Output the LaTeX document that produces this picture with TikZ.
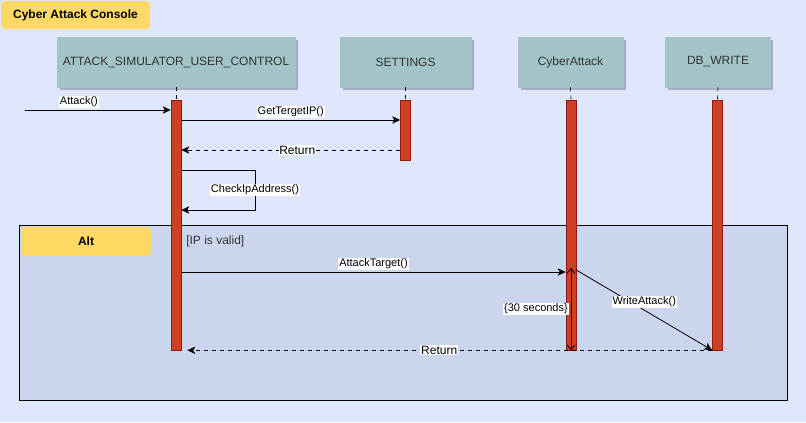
\documentclass[tikz,border=0pt]{standalone}
\usepackage{fontspec}
\setmainfont{Liberation Sans}
\usetikzlibrary{arrows.meta,positioning,shadows}

\definecolor{bgblue}{HTML}{DFE7FC}
\definecolor{altblue}{HTML}{CCD5EE}
\definecolor{headteal}{HTML}{A2C4C9}
\definecolor{shadowgray}{HTML}{A6ADC4}
\definecolor{notegold}{HTML}{FFD966}
\definecolor{barred}{HTML}{CC4125}
\definecolor{bardark}{HTML}{8E1C0E}
\definecolor{textgray}{HTML}{333333}

\tikzset{
  head/.style={draw=headteal, fill=headteal, text=textgray,
    minimum height=37.5pt, inner sep=0pt,
    font=\fontsize{9}{11}\selectfont,
    drop shadow={shadow xshift=2pt, shadow yshift=-2pt, fill=shadowgray, opacity=1}},
  tag/.style={fill=notegold, rounded corners=3pt, inner sep=0pt,
    font=\fontsize{9}{11}\selectfont\bfseries},
  bar/.style={draw=bardark, fill=barred, minimum width=7.5pt, inner sep=0pt},
  msg/.style={line width=0.75pt, -{Stealth[length=6pt,width=5.5pt,inset=1.5pt]}},
  ret/.style={msg, dashed},
  lbl/.style={fill=white, inner sep=0.6pt, font=\fontsize{8.25}{10}\selectfont},
  retlbl/.style={fill=white, inner sep=0.6pt, font=\fontsize{9}{11}\selectfont}
}

\begin{document}
\begin{tikzpicture}[x=0.75pt, y=-0.75pt]
  % background and frame
  \fill[bgblue] (0,0) rectangle (806,422);
  \useasboundingbox (0,0) rectangle (806,422);
  \draw[fill=altblue, line width=0.75pt] (19,225) rectangle (787,400);

  \node[tag, minimum width=111.75pt, minimum height=21pt] (title) at (75.5,15) {Cyber Attack Console};
  \node[tag, minimum width=97.5pt, minimum height=21.75pt] (alt) at (86,241.5) {Alt};
  \node[anchor=west, text=textgray, inner sep=0pt, font=\fontsize{9}{11}\selectfont] (guard) at (186,241) {[IP is valid]};

  % lifelines
  \node[head, minimum width=178.5pt] (ucHead) at (176,62) {ATTACK\_SIMULATOR\_USER\_CONTROL};
  \node[head, minimum width=98.25pt] (setHead) at (405.5,62) {SETTINGS};
  \node[head, minimum width=78.75pt] (caHead) at (570.5,62) {CyberAttack};
  \node[head, minimum width=78.75pt] (dbHead) at (718,62) {DB\_WRITE};

  \node[bar, minimum height=187.5pt] (ucBar) at (176,225) {};
  \node[bar, minimum height=45pt] (setBar) at (405.5,130) {};
  \node[bar, minimum height=187.5pt] (caBar) at (571,225) {};
  \node[bar, minimum height=187.5pt] (dbBar) at (717.5,225) {};

  \foreach \h/\b in {ucHead/ucBar, setHead/setBar, caHead/caBar, dbHead/dbBar}
    \draw[dashed, line width=0.5pt] (\h.south) -- (\b.north);

  % messages
  \coordinate (caller) at (25,110);
  \coordinate (getRow) at (0,120);
  \coordinate (retRow) at (0,150);
  \coordinate (chkTop) at (255,170);
  \coordinate (chkBot) at (255,210);
  \coordinate (atkRow) at (0,272);
  \coordinate (wrRow) at (0,270);
  \coordinate (durTop) at (0,268);

  \draw[msg] (caller) -- (ucBar.west |- caller)
    node[lbl, pos=0.37, above=1.5pt] {Attack()};
  \draw[msg] (ucBar.east |- getRow) -- (setBar.west |- getRow)
    node[lbl, midway, above=1.5pt] {GetTergetIP()};
  \draw[ret] (setBar.west |- retRow) -- (ucBar.east |- retRow)
    node[retlbl, pos=0.47] {Return};
  \draw[msg] (ucBar.east |- chkTop) -- (chkTop) -- (chkBot)
    node[lbl, midway] {CheckIpAddress()} -- (ucBar.east |- chkBot);
  \draw[msg] (ucBar.east |- atkRow) -- (caBar.west |- atkRow)
    node[lbl, midway, above=1.5pt] {AttackTarget()};
  \draw[msg, line width=0.6pt] (caBar.east |- wrRow) -- (dbBar.south west)
    node[lbl, midway, yshift=6pt] {WriteAttack()};
  \draw[line width=0.6pt, {Straight Barb[length=3.5pt,width=6pt]}-{Straight Barb[length=3.5pt,width=6pt]}]
    (caBar.center |- durTop) -- (caBar.south)
    node[lbl, midway, left=1.5pt] {\{30 seconds\}};
  \draw[ret] (dbBar.south west) -- ([xshift=4.5pt]ucBar.south east)
    node[retlbl, pos=0.52] {Return};
\end{tikzpicture}
\end{document}
